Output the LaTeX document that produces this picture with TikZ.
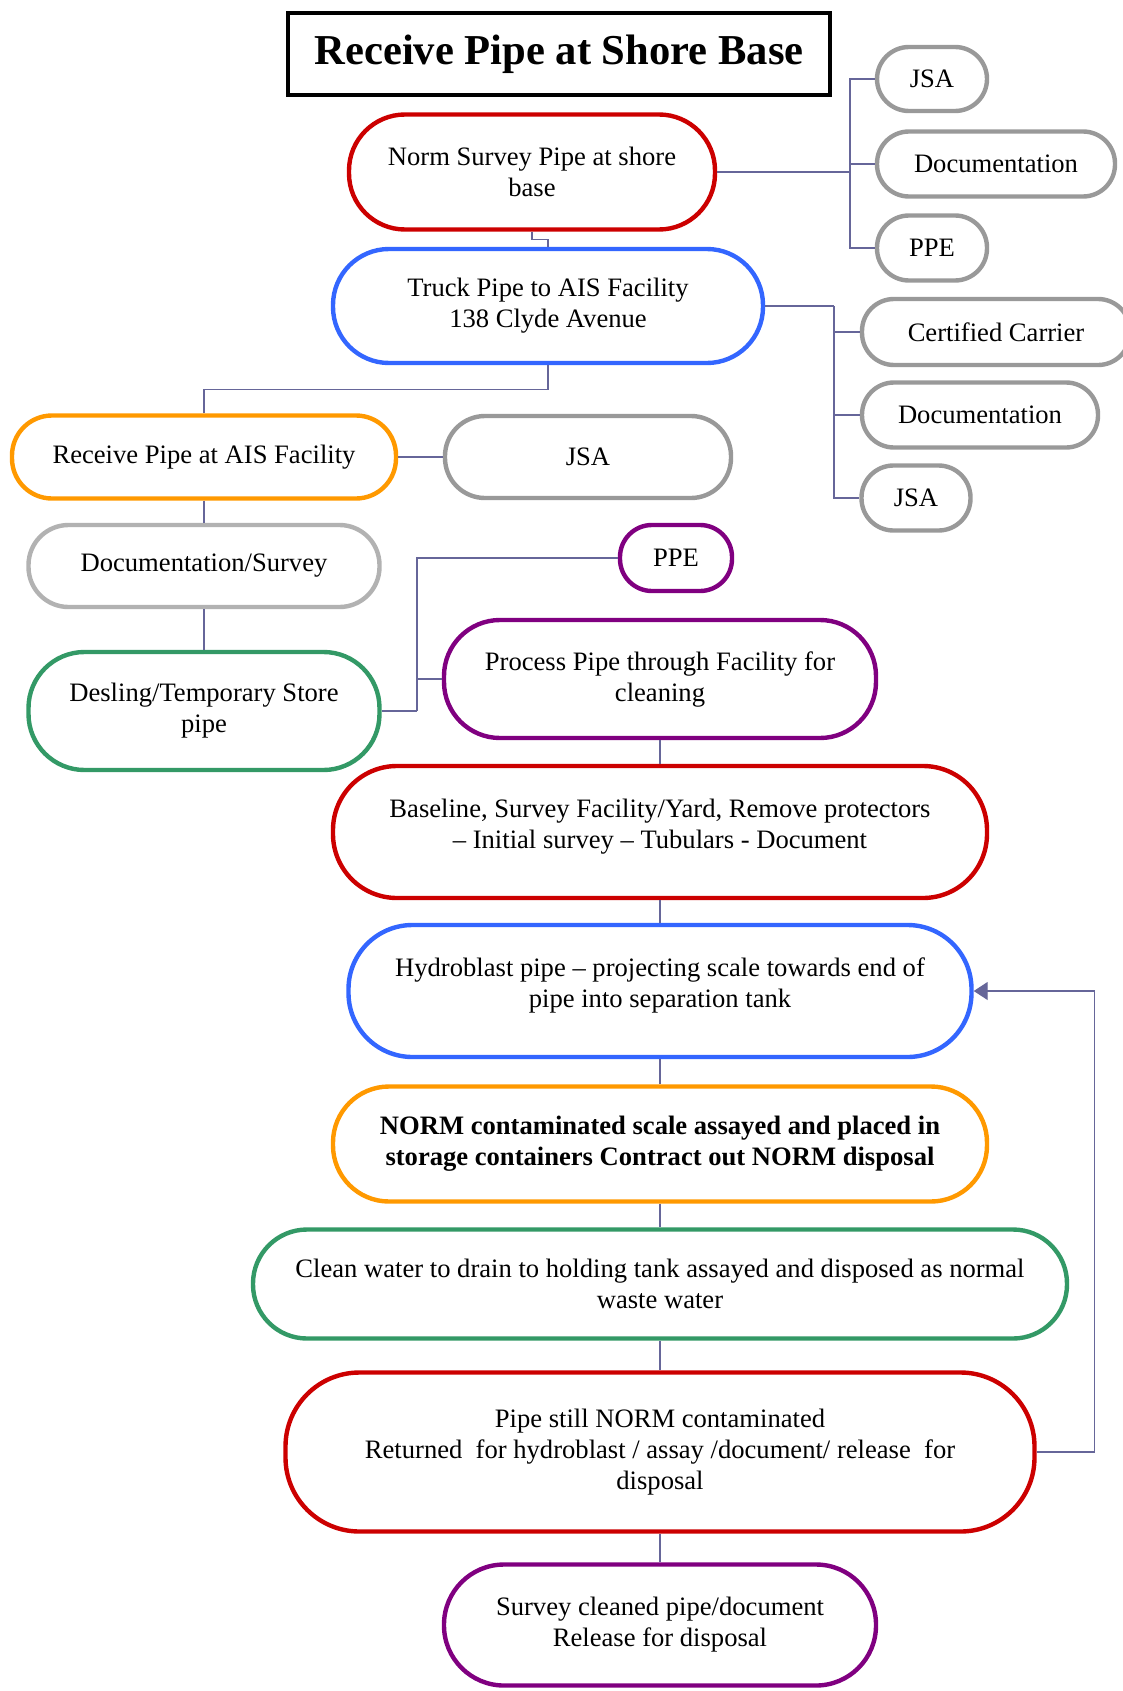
\documentclass[tikz,border=0pt]{standalone}
\usepackage{fontspec}
\setmainfont{Liberation Serif}
\usepackage{xcolor}
\usepackage{tikz}
\usetikzlibrary{arrows.meta,positioning,calc}
\definecolor{stepred}{HTML}{CC0000}
\definecolor{stepblue}{HTML}{3366FF}
\definecolor{steporange}{HTML}{FF9900}
\definecolor{stepgreen}{HTML}{339966}
\definecolor{steppurple}{HTML}{800080}
\definecolor{checkgray}{HTML}{999999}
\definecolor{softgray}{HTML}{B2B2B2}
\definecolor{linkblue}{HTML}{666699}

\begin{document}
\begin{tikzpicture}[x=0.5pt, y=-0.5pt,
    stage/.style={draw, rounded corners=28pt, line width=2.2pt, fill=white, align=center, inner sep=0pt, font=\fontsize{13.3}{15.5}\selectfont},
    wide/.style={stage, rounded corners=32pt},
    check/.style={stage, draw=checkgray, rounded corners=16pt},
    heading/.style={draw, line width=2.2pt, fill=white, minimum width=271pt, minimum height=41pt, font=\fontsize{21.3}{25}\selectfont\bfseries},
    link/.style={draw=linkblue, line width=0.6pt},
    back/.style={link, -{Triangle[length=7pt, width=9pt]}}
]
\useasboundingbox (0,0) rectangle (1123,1691);

\node[heading] (title) at (559,54) {Receive Pipe at Shore Base};

\node[stage, draw=stepred, minimum width=183pt, minimum height=57.5pt] (norm) at (532,172) {Norm Survey Pipe at shore\\base};
\node[stage, draw=stepblue, minimum width=215pt, minimum height=57pt] (truck) at (548,306) {Truck Pipe to AIS Facility\\138 Clyde Avenue};

\node[check, minimum width=55pt, minimum height=32pt] (jsaA) at (932,79) {JSA};
\node[check, minimum width=119pt, minimum height=32.5pt] (docA) at (996,164) {Documentation};
\node[check, minimum width=55pt, minimum height=32.5pt] (ppeA) at (932,248) {PPE};

\node[check, minimum width=134pt, minimum height=33pt] (carrier) at (996,332) {Certified Carrier};
\node[check, minimum width=118pt, minimum height=32.5pt] (docB) at (980,415) {Documentation};
\node[check, minimum width=54.5pt, minimum height=32.5pt] (jsaB) at (916,498) {JSA};

\node[stage, draw=steporange, rounded corners=20pt, minimum width=192pt, minimum height=41.5pt] (recv) at (204,457) {Receive Pipe at AIS Facility};
\node[check, rounded corners=20pt, minimum width=143pt, minimum height=41pt] (jsaC) at (588,457) {JSA};
\node[stage, draw=softgray, rounded corners=20pt, minimum width=175.5pt, minimum height=41pt] (docsurv) at (204,566) {Documentation/Survey};
\node[stage, draw=stepgreen, minimum width=175.5pt, minimum height=59pt] (desling) at (204,711) {Desling/Temporary Store\\pipe};

\node[stage, draw=steppurple, rounded corners=16pt, minimum width=56pt, minimum height=33pt] (ppeC) at (676,558) {PPE};
\node[stage, draw=steppurple, minimum width=216pt, minimum height=59pt] (process) at (660,679) {Process Pipe through Facility for\\cleaning};
\node[wide, draw=stepred, text depth=8pt, minimum width=327pt, minimum height=66pt] (baseline) at (660,832) {Baseline, Survey Facility/Yard, Remove protectors\\– Initial survey – Tubulars - Document};
\node[wide, draw=stepblue, text depth=8pt, minimum width=311.5pt, minimum height=66pt] (hydro) at (660,991) {Hydroblast pipe – projecting scale towards end of\\pipe into separation tank};
\node[stage, draw=steporange, font=\fontsize{13.3}{15.5}\selectfont\bfseries, minimum width=327pt, minimum height=57.5pt] (normc) at (660,1144) {NORM contaminated scale assayed and placed in\\storage containers Contract out NORM disposal};
\node[stage, draw=stepgreen, rounded corners=27pt, minimum width=407pt, minimum height=54.5pt] (clean) at (660,1284) {Clean water to drain to holding tank assayed and disposed as normal\\waste water};
\node[wide, draw=stepred, rounded corners=37pt, minimum width=374.5pt, minimum height=79.5pt] (still) at (660,1452) {Pipe still NORM contaminated\\Returned\ \ for hydroblast / assay /document/ release\ \ for\\disposal};
\node[wide, draw=steppurple, rounded corners=30pt, minimum width=216pt, minimum height=60.5pt] (survey) at (660,1625) {Survey cleaned pipe/document\\Release for disposal};

\coordinate (busA) at (850,172);
\coordinate (busB) at (834,306);
\coordinate (busC) at (417,711);

\draw[link] (norm.east) -- (busA);
\draw[link] (busA) |- (jsaA.west);
\draw[link] (busA) |- (docA.west);
\draw[link] (busA) |- (ppeA.west);

\draw[link] (truck.east) -- (busB);
\draw[link] (busB) |- (carrier.west);
\draw[link] (busB) |- (docB.west);
\draw[link] (busB) |- (jsaB.west);

\draw[link] (norm.south) -- ++(0,8) -| (truck.north);
\draw[link] (truck.south) -- ++(0,24) -| (recv.north);
\draw[link] (recv.east) -- (jsaC.west);
\draw[link] (recv.south) -- (docsurv.north);
\draw[link] (docsurv.south) -- (desling.north);

\draw[link] (desling.east) -- (busC);
\draw[link] (busC) |- (ppeC.west);
\draw[link] (busC) |- (process.west);

\draw[link] (process.south) -- (baseline.north);
\draw[link] (baseline.south) -- (hydro.north);
\draw[link] (hydro.south) -- (normc.north);
\draw[link] (normc.south) -- (clean.north);
\draw[link] (clean.south) -- (still.north);
\draw[link] (still.south) -- (survey.north);

\draw[back] (still.east) -- ++(58,0) |- (hydro.east);
\end{tikzpicture}
\end{document}
